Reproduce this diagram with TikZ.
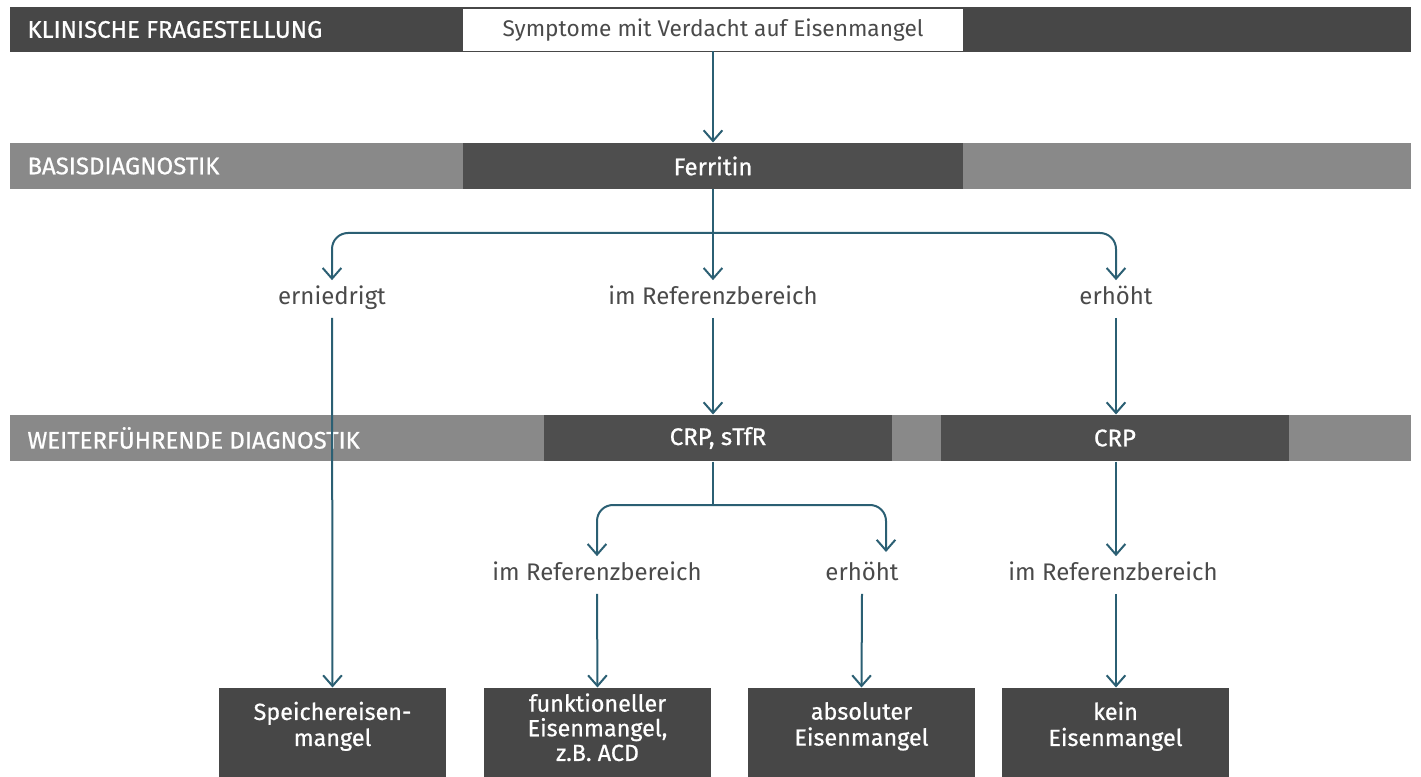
\documentclass[tikz,border=0pt]{standalone}
\usepackage{fontspec}
\setmainfont{Fira Sans}
\newfontfamily\medfont{Fira Sans}[FakeBold=0.7]
\usetikzlibrary{arrows.meta}

\definecolor{bandDark}{HTML}{474747}
\definecolor{bandGrey}{HTML}{898989}
\definecolor{boxDark}{HTML}{4E4E4E}
\definecolor{arrowTeal}{HTML}{2B5F73}
\definecolor{labelGrey}{HTML}{4A4A4A}

\tikzset{every picture/.style={line width=0.75pt}}
\tikzset{
  band/.style={minimum width=1050.75pt, minimum height=34pt, inner sep=0pt},
  bandtxt/.style={anchor=west, inner sep=0pt, text=white, font=\medfont\fontsize{18}{20}\selectfont},
  midbox/.style={minimum height=34.5pt, inner sep=0pt, fill=boxDark, text=white, font=\medfont\fontsize{18}{20}\selectfont},
  endbox/.style={minimum width=170.25pt, minimum height=66.75pt, inner sep=0pt, text depth=13pt, fill=bandDark, text=white, align=center, font=\medfont\fontsize{17.5}{19.5}\selectfont},
  lbl/.style={inner xsep=2pt, inner ysep=5pt, text height=13pt, text depth=4.5pt, text=labelGrey, font=\fontsize{18}{20}\selectfont},
  conn/.style={draw=arrowTeal, line width=1.5pt, -{Straight Barb[length=8pt,width=14pt,line width=1.5pt]}},
  plain/.style={draw=arrowTeal, line width=1.5pt}
}

\begin{document}
\begin{tikzpicture}[x=0.75pt,y=0.75pt,yscale=-1,xscale=1]
	\useasboundingbox (0,0) rectangle (1421,777);

	%Shape: Bands
	\node [band, fill=bandDark] (bandA) at (710.5,29.5) {};
	\node [band, fill=bandGrey] (bandB) at (710.5,166) {};
	\node [band, fill=bandGrey] (bandC) at (710.5,438) {};
	% Text Node
	\node [bandtxt] (bandAtxt) at (27,29.5) {KLINISCHE FRAGESTELLUNG};
	\node [bandtxt] (bandBtxt) at (27,166) {BASISDIAGNOSTIK};
	\node [bandtxt] (bandCtxt) at (27,438) {WEITERFÜHRENDE DIAGNOSTIK};

	%Shape: Boxes
	\node [fill=white, minimum width=375pt, minimum height=31.5pt, inner sep=0pt, text=labelGrey, font=\fontsize{17}{20}\selectfont] (sym) at (713,30) {Symptome mit Verdacht auf Eisenmangel};
	\node [midbox, minimum width=375pt] (ferr) at (713,166) {Ferritin};
	\node [midbox, minimum width=261pt] (crps) at (718,438) {CRP, sTfR};
	\node [midbox, minimum width=261pt] (crp) at (1115,438) {CRP};

	\node [endbox] (speicher) at (332.5,732.5) {Speichereisen-\\mangel};
	\node [endbox, text depth=8pt, font=\medfont\fontsize{17.5}{18.5}\selectfont] (funkt) at (597.5,732.5) {funktioneller\\Eisenmangel,\\z.B. ACD};
	\node [endbox] (absol) at (861.5,732.5) {absoluter\\Eisenmangel};
	\node [endbox] (kein) at (1115.5,732.5) {kein\\Eisenmangel};

	% Text Node
	\node [lbl] (erni) at (332,299) {erniedrigt};
	\node [lbl] (refA) at (713,299) {im Referenzbereich};
	\node [lbl] (erhA) at (1116,299) {erhöht};
	\node [lbl] (refB) at (597,575) {im Referenzbereich};
	\node [lbl] (erhB) at (862,575) {erhöht};
	\node [lbl] (refC) at (1113,575) {im Referenzbereich};

	\coordinate (brA) at (713,233);
	\coordinate (brB) at (713,505);
	\coordinate (tipB) at (886,552);

	%Straight Lines
	\draw [conn] (sym.south) -- (ferr.north);
	\draw [conn] (ferr.south) -- (refA.north);
	\draw [conn, rounded corners=12pt] (brA) -| (erni.north);
	\draw [conn, rounded corners=12pt] (brA) -| (erhA.north);
	\draw [conn] (erni.south) -- (speicher.north);
	\draw [conn] (refA.south) -- (refA.south |- crps.north);
	\draw [conn] (erhA.south) -- (erhA.south |- crp.north);

	\draw [plain] (crps.south -| brB) -- (brB);
	\draw [conn, rounded corners=12pt] (brB) -| (refB.north);
	\draw [conn, rounded corners=12pt] (brB) -| (tipB);
	\draw [conn] (crp.south -| erhA) -- (refC.north -| erhA);
	\draw [conn] (refB.south) -- (funkt.north);
	\draw [conn] (erhB.south) -- (absol.north);
	\draw [conn] (refC.south -| erhA) -- (kein.north -| erhA);

\end{tikzpicture}
\end{document}
